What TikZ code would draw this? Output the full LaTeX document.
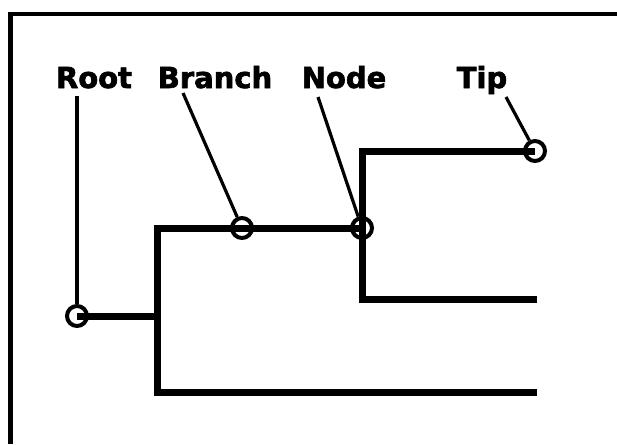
\documentclass[tikz,border=0pt]{standalone}
\usepackage{fontspec}
\setmainfont{DejaVu Sans}[BoldFeatures={FakeBold=2.2}]
\begin{document}
\begin{tikzpicture}[x=1pt,y=-1pt,line join=miter,
	frameline/.style={line width=4.5pt},
	treeline/.style={line width=7pt},
	leader/.style={line width=3.2pt},
	ring/.style={circle,draw,line width=4pt,minimum size=20pt,inner sep=0pt},
	lbl/.style={font=\bfseries\fontsize{29}{30}\selectfont,anchor=base,inner sep=0pt}]
	\useasboundingbox (0,0) rectangle (617,444);
	\draw[frameline] (10.5,444)--(10.5,14)--(617,14);
	% labels
	\node[lbl] (rootlbl) at (94,88) {Root};
	\node[lbl] (branchlbl) at (215,88) {Branch};
	\node[lbl] (nodelbl) at (344,88) {Node};
	\node[lbl] (tiplbl) at (482,88) {Tip};
	% marked points
	\node[ring] (root) at (77,316) {};
	\node[ring] (branch) at (242,228) {};
	\node[ring] (node) at (362,228) {};
	\node[ring] (tip) at (535,151) {};
	\path
	(157,316) coordinate (split)
	(537,392) coordinate (lowend)
	(537,299) coordinate (midend)
	(77,96) coordinate (rootfoot)
	(183,93) coordinate (branchfoot)
	(318,97) coordinate (nodefoot)
	(506,97) coordinate (tipfoot);
	% tree
	\draw[treeline] (root.center)--(split);
	\draw[treeline] (node.center)-|(split)|-(lowend);
	\draw[treeline] (tip.center)-|(node.center)|-(midend);
	% leaders
	\foreach \i in {root, branch, node, tip} \draw[leader] (\i foot)--(\i);
\end{tikzpicture}
\end{document}
